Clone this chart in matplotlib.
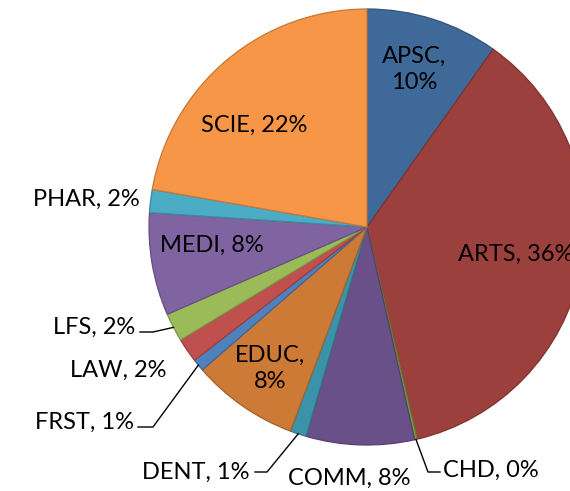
"""Faculty share pie chart (Excel-style labels with leader lines)."""

import matplotlib.pyplot as plt
import numpy as np
from matplotlib.colors import to_rgb

faculties = ["APSC", "ARTS", "CHD", "COMM", "DENT", "EDUC",
             "FRST", "LAW", "LFS", "MEDI", "PHAR", "SCIE"]
shares = [9.8, 36.4, 0.2, 8.0, 1.2, 7.9, 0.9, 1.8, 2.1, 7.6, 1.7, 22.2]
colors = ["#3F6998", "#9C403D", "#7A9A3F", "#6A5088", "#3A93A8", "#CC7A36",
          "#4F81BD", "#C0504D", "#9BBB59", "#8064A2", "#4BACC6", "#F79646"]

W, H = 570, 491
CX, CY, R = 367, 227, 218  # pie centre / radius in image pixels (y down)

# label placement in image pixels: (x, y, ha, two_lines, leader elbow or None)
layout = {
    "APSC": (414, 69, "center", True, None),
    "ARTS": (458, 254, "left", False, None),
    "CHD": (443, 470, "left", False, [(428, 472), (440, 472)]),
    "COMM": (349, 478, "center", False, None),
    "DENT": (250, 472, "right", False, [(267, 472), (255, 472)]),
    "EDUC": (270, 368, "center", True, None),
    "FRST": (134, 422, "right", False, [(153, 427), (138, 427)]),
    "LAW": (167, 370, "right", False, None),
    "LFS": (135, 327, "right", False, [(153, 332), (140, 332)]),
    "MEDI": (212, 245, "center", False, None),
    "PHAR": (140, 199, "right", False, None),
    "SCIE": (254, 125, "center", False, None),
}


def _darker(c, f=0.8):
    return tuple(v * f for v in to_rgb(c))


fig = plt.figure(figsize=(W / 100, H / 100), dpi=100)
ax = fig.add_axes([0, 0, 1, 1])

wedges, _ = ax.pie(shares, colors=colors, startangle=90, counterclock=False,
                   center=(CX, H - CY), radius=R, frame=True,
                   wedgeprops=dict(linewidth=0.9))
ax.set_xlim(0, W)
ax.set_ylim(0, H)
ax.set_aspect("equal")
ax.axis("off")

total = float(np.sum(shares))
font = dict(family=["Lato", "DejaVu Sans"], fontsize=17, color="black")

for wedge, name, value, col in zip(wedges, faculties, shares, colors):
    wedge.set_edgecolor(_darker(col))
    pct = f"{round(value / total * 100):.0f}%"
    x, y, ha, two_lines, elbow = layout[name]
    text = f"{name},\n{pct}" if two_lines else f"{name}, {pct}"
    ax.text(x, H - y, text, ha=ha, va="center", linespacing=1.3, **font)
    if elbow:
        mid = np.deg2rad((wedge.theta1 + wedge.theta2) / 2)
        ax0 = CX + R * np.cos(mid)
        ay0 = (H - CY) + R * np.sin(mid)
        xs = [ax0] + [p[0] for p in elbow]
        ys = [ay0] + [H - p[1] for p in elbow]
        ax.plot(xs, ys, color="black", linewidth=1.0)

fig.savefig("out.png", dpi=100)
